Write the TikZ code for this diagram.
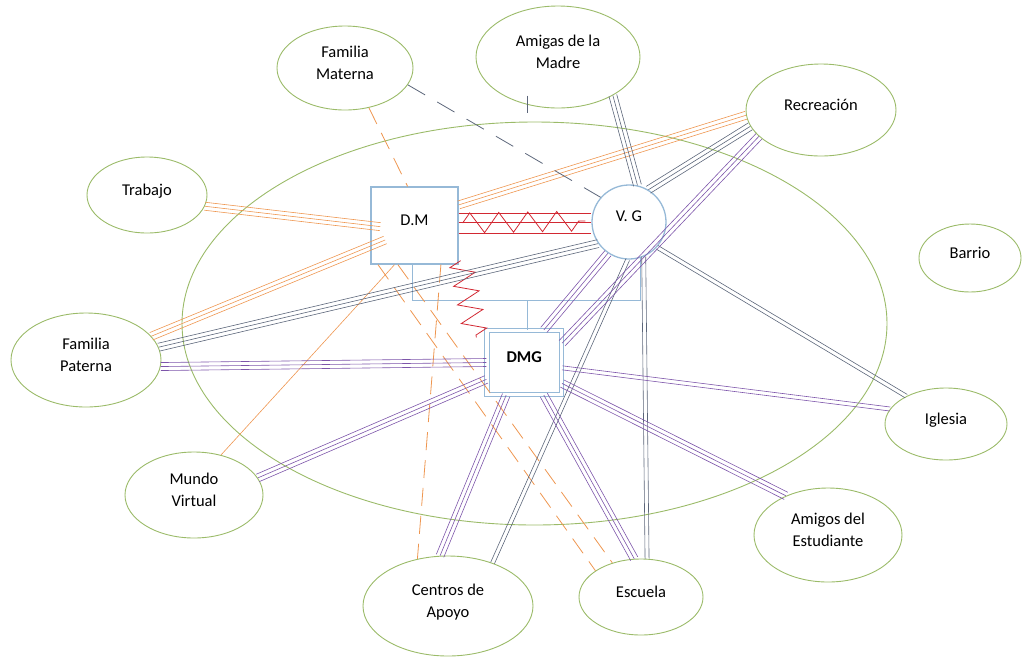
\documentclass[tikz,border=0pt]{standalone}
\usepackage{fontspec}
\setmainfont{Carlito}
\usetikzlibrary{arrows,calc,positioning}
\usetikzlibrary{shapes.geometric}
\usetikzlibrary{decorations.pathmorphing}
\definecolor{verde}{RGB}{155,187,105}
\definecolor{celeste}{RGB}{150,185,215}
\definecolor{naranja}{RGB}{238,150,80}
\definecolor{gris}{RGB}{92,102,122}
\definecolor{morado}{RGB}{125,85,170}
\definecolor{rojo}{RGB}{210,40,50}
% parallel lines between two anchors
\newcommand{\lazotriple}[3]{%
  \draw[#1] ($(#2)!4pt!90:(#3)$) -- ($(#3)!4pt!-90:(#2)$);
  \draw[#1] (#2) -- (#3);
  \draw[#1] ($(#2)!4pt!-90:(#3)$) -- ($(#3)!4pt!90:(#2)$);}
\newcommand{\lazodoble}[3]{%
  \draw[#1] ($(#2)!2pt!90:(#3)$) -- ($(#3)!2pt!-90:(#2)$);
  \draw[#1] ($(#2)!2pt!-90:(#3)$) -- ($(#3)!2pt!90:(#2)$);}
\tikzset{
    %Define style for the systems
    sistema/.style={
           ellipse,
           draw=verde, line width=.9pt,
           inner sep=0pt,
           text depth=11pt,
           align=center},
    %Define style for the family members
    familia/.style={
           draw=celeste, line width=1.3pt,
           inner sep=0pt,
           text depth=11pt},
    % Define line styles
    lazo/.style={draw=#1, line width=.6pt},
    roto/.style={draw=#1, line width=.8pt, dash pattern=on 18pt off 10pt},
    parentesco/.style={draw=celeste, line width=1pt},
    conflicto/.style={draw=rojo, line width=.8pt, decorate}
}
\begin{document}
\begin{tikzpicture}[x=1pt, y=-1pt, font=\fontsize{16.5}{22}\selectfont]
 \useasboundingbox (0,0) rectangle (1023,657);
 %Entorno
 \node[sistema, minimum width=705pt, minimum height=403pt] (hogar) at (534.5,323.5) {};

 %Sistemas
 \node[sistema, minimum width=136pt, minimum height=84pt] (mat) at (345,68) {Familia\\Materna};
 \node[sistema, minimum width=120pt, minimum height=76pt] (trab) at (147,195) {Trabajo};
 \node[sistema, minimum width=164pt, minimum height=102pt] (amad) at (558,57) {Amigas de la\\Madre};
 \node[sistema, minimum width=150pt, minimum height=92pt] (recr) at (821,110) {Recreación};
 \node[sistema, minimum width=102pt, minimum height=68pt] (barr) at (970,258) {Barrio};
 \node[sistema, minimum width=150pt, minimum height=94pt] (pat) at (86,360) {Familia\\Paterna};
 \node[sistema, minimum width=138pt, minimum height=86pt] (mundo) at (194,495) {Mundo\\Virtual};
 \node[sistema, minimum width=170pt, minimum height=100pt] (cent) at (448,606) {Centros de\\Apoyo};
 \node[sistema, minimum width=124pt, minimum height=76pt] (esc) at (641,597) {Escuela};
 \node[sistema, minimum width=122pt, minimum height=72pt] (igl) at (946,424) {Iglesia};
 \node[sistema, minimum width=148pt, minimum height=94pt] (aest) at (828,535) {Amigos del\\Estudiante};

 %Familia
 \node[familia, rectangle, minimum width=87pt, minimum height=77pt] (dm) at (414.5,225.5) {D.M};
 \node[familia, circle, minimum size=74pt] (vg) at (629,222) {V. G};
 \node[familia, rectangle, double=white, double distance=3.5pt, line width=1.2pt,
       minimum width=74.5pt, minimum height=64pt] (dmg) at (524.25,362.5) {\textbf{DMG}};

 \draw[parentesco] ([xshift=-2.5pt]dm.south) -- ++(0,36) coordinate (union) -| (vg.-73);
 \draw[parentesco] ([xshift=3pt]dmg.north) -- ([xshift=3pt]dmg.north |- union);

 %Conflicto
 \draw[lazo=rojo, line width=.8pt] ([yshift=12.5pt]dm.east) -- ([yshift=9pt]vg.west);
 \draw[lazo=rojo, line width=.8pt] ([yshift=3.5pt]dm.east) -- (vg.west);
 \draw[lazo=rojo, line width=.8pt] ([yshift=-7.5pt]dm.east) -- ([yshift=-11pt]vg.west);
 \draw[conflicto, decoration={zigzag, segment length=29pt, amplitude=10pt}]
   ([xshift=4pt,yshift=2.5pt]dm.east) -- ([xshift=-6pt,yshift=1pt]vg.west);
 \draw[conflicto, decoration={zigzag, segment length=19pt, amplitude=12pt, mirror}]
   ([xshift=2pt,yshift=4pt]dm.south east) -- ([xshift=-10pt,yshift=-7.5pt]dmg.north west);

 %D.M
 \lazotriple{lazo=naranja, shorten >=-10pt}{trab.-11}{dm.west}
 \lazotriple{lazo=naranja}{dm.25}{recr.184}
 \lazotriple{lazo=naranja, shorten >=-16pt}{pat.20}{dm.205}
 \draw[roto=naranja] (mat.-59) -- (dm.100);
 \draw[roto=naranja] (dm.-56) -- (cent.123);
 \draw[roto=naranja] (dm.-133) -- (esc.150);
 \draw[roto=naranja] (dm.-113) -- (esc.130);
 \draw[lazo=naranja] (mundo.56) -- (dm.-117);

 %V. G
 \lazotriple{lazo=gris}{amad.-35}{vg.77}
 \lazotriple{lazo=gris}{vg.59}{recr.193}
 \lazotriple{lazo=gris}{vg.215}{pat.10}
 \lazodoble{lazo=gris}{vg.-42}{igl.145}
 \lazodoble{lazo=gris}{vg.-67}{esc.81}
 \lazodoble{lazo=gris}{vg.-92}{cent.44}
 \draw[roto=gris, dash pattern=on 20pt off 14pt] (mat.-15) -- (vg.139);
 \draw[lazo=gris, line width=.8pt] ([yshift=9pt]amad.-123) -- ([yshift=-8pt]amad.-123);

 %DMG
 \lazotriple{lazo=morado}{pat.-5}{dmg.west}
 \lazotriple{lazo=morado}{mundo.15}{dmg.204}
 \lazotriple{lazo=morado}{dmg.-119}{cent.99}
 \lazotriple{lazo=morado}{dmg.-59}{esc.100}
 \lazotriple{lazo=morado}{dmg.-29}{aest.137}
 \lazodoble{lazo=morado}{dmg.-8}{igl.165}
 \lazotriple{lazo=morado}{dmg.59}{vg.-124}
 \lazotriple{lazo=morado}{dmg.27}{recr.203}
\end{tikzpicture}
\end{document}
